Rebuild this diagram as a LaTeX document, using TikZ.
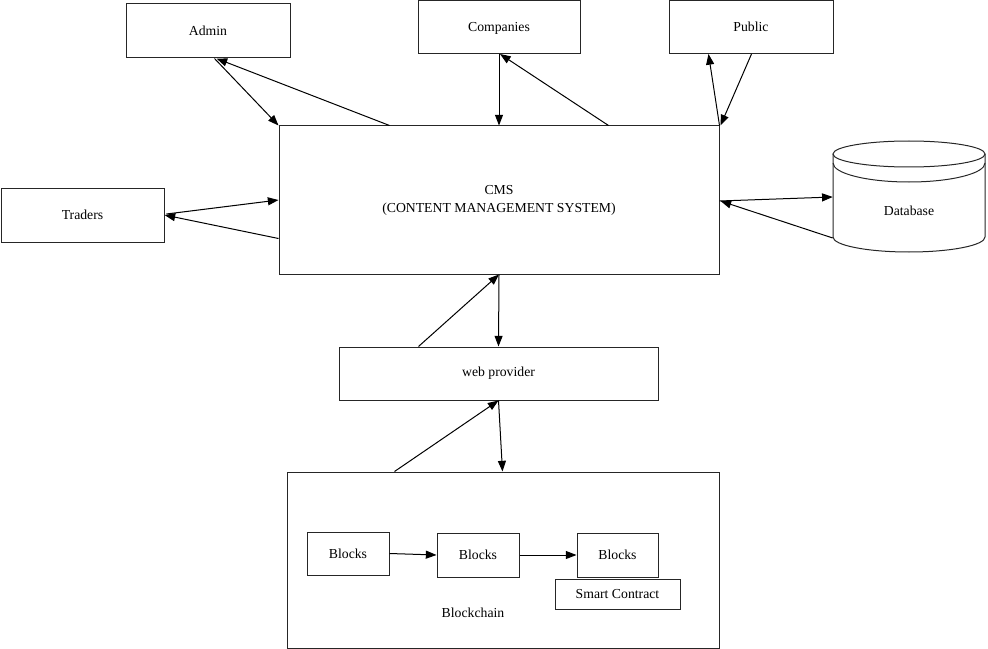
\documentclass[tikz,border=0pt]{standalone}
\usepackage{fontspec}
\setmainfont{Liberation Serif}
\usetikzlibrary{arrows.meta,calc}
\begin{document}
\begin{tikzpicture}[x=0.75pt,y=-0.75pt,
  every node/.style={font=\fontsize{10.3}{13.5}\selectfont},
  box/.style={draw=black!85,line width=0.75pt,inner sep=0pt,align=center},
  arr/.style={-{Triangle[length=8pt,width=6pt]},line width=0.75pt},
  txt/.style={inner sep=0pt}]
\useasboundingbox (0,0) rectangle (988,649);

% boxes
\node[box,minimum width=123pt,minimum height=40.5pt] (admin) at (208,31) {Admin};
\node[box,minimum width=121.5pt,minimum height=39.75pt,text depth=-2pt] (companies) at (499,27) {Companies};
\node[box,minimum width=123pt,minimum height=39.75pt,text depth=-2pt] (public) at (751,27) {Public};
\node[box,minimum width=330pt,minimum height=111pt] (cms) at (499,200) {CMS\\(CONTENT MANAGEMENT SYSTEM)};
\node[box,minimum width=122.25pt,minimum height=40.5pt] (traders) at (82.5,215) {Traders};
\node[box,minimum width=239.25pt,minimum height=39.75pt] (web) at (498.5,373.5) {web provider};
\node[box,minimum width=324pt,minimum height=132pt] (bc) at (503,560) {};
\node[txt] (bclabel) at (473,613) {Blockchain};
\node[box,minimum width=61.5pt,minimum height=32.25pt] (b1) at (348,553.5) {Blocks};
\node[box,minimum width=61.5pt,minimum height=33pt] (b2) at (478,555) {Blocks};
\node[box,minimum width=60.75pt,minimum height=33pt] (b3) at (617.5,555) {Blocks};
\node[box,minimum width=93.75pt,minimum height=22.5pt] (smart) at (617.5,594) {Smart Contract};

% database cylinder
\node[txt,minimum width=114pt,minimum height=84pt] (db) at (909,196) {};
\node[txt] (dblabel) at (909,211) {Database};
\begin{scope}[draw=black!85,line width=0.75pt]
  \draw (909,154) ellipse[x radius=76,y radius=13];
  \draw (833,163) arc[start angle=180,end angle=0,x radius=76,y radius=19];
  \draw (833,154) -- (833,237) arc[start angle=180,end angle=0,x radius=76,y radius=15] -- (985,154);
\end{scope}

% connectors
\draw[arr] ($(admin.south west)+(89,0)$) -- (cms.north west);
\draw[arr] ($(cms.north west)+(111,0)$) -- ($(admin.south west)+(91,0)$);
\draw[arr] (companies.south) -- (cms.north);
\draw[arr] ($(cms.north west)+(330,0)$) -- ($(companies.south)+(1,0)$);
\draw[arr] (cms.north east) -- ($(public.south west)+(40,0)$);
\draw[arr] ($(public.south west)+(83,0)$) -- ($(cms.north east)+(1,0)$);
\draw[arr] ($(traders.east)+(2,-1)$) -- ($(cms.west)+(0,0)$);
\draw[arr] ($(cms.south west)+(0,-36)$) -- (traders.east);
\draw[arr] ($(cms.east)+(0,1)$) -- ($(db.west)+(0,1)$);
\draw[arr] ($(db.west)+(0,42)$) -- ($(cms.east)+(1,1)$);
\draw[arr] ($(web.north west)+(80,0)$) -- (cms.south);
\draw[arr] (cms.south) -- (web.north);
\draw[arr] ($(bc.north west)+(108,0)$) -- (web.south);
\draw[arr] (web.south) -- ($(bc.north west)+(216,0)$);
\draw[arr] (b1.east) -- (b2.west);
\draw[arr] (b2.east) -- (b3.west);
\end{tikzpicture}
\end{document}
